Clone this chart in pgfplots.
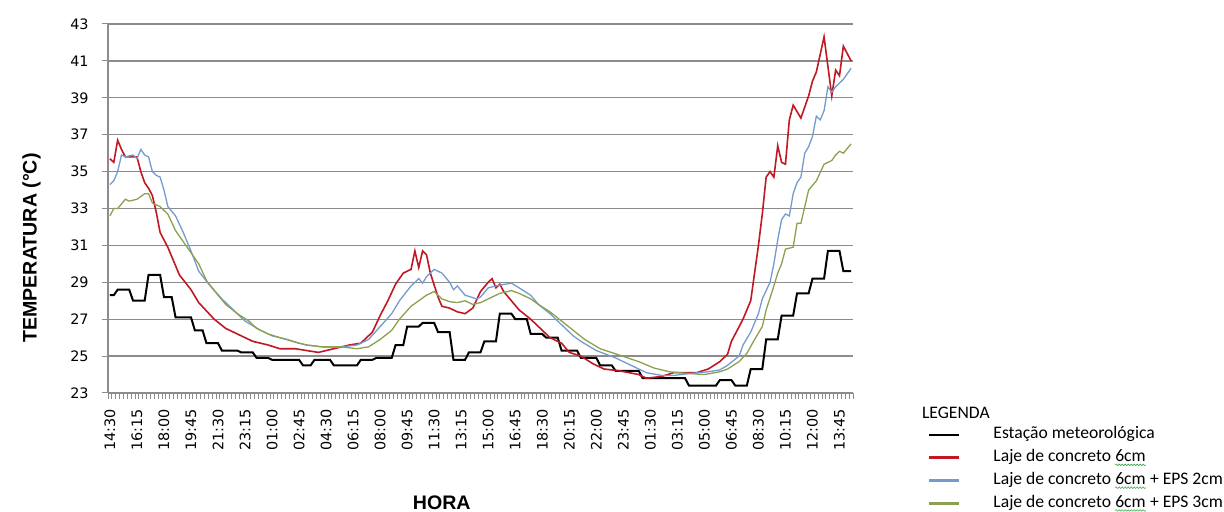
\documentclass[border=0pt]{standalone}
\usepackage{fontspec}
\setmainfont{Liberation Sans}
\newfontfamily\tickfont{DejaVu Sans}
\newfontfamily\legfont{Carlito}
\usepackage{pgfplots}
\pgfplotsset{compat=1.18}
\usepackage{pgfplotstable}
\usetikzlibrary{decorations.pathmorphing}

\definecolor{cred}{RGB}{192,25,35}
\definecolor{cblue}{RGB}{115,155,205}
\definecolor{cgreen}{RGB}{140,160,80}
\definecolor{cgrid}{RGB}{140,140,140}
\definecolor{cwave}{RGB}{60,170,80}

\newcommand\gwave[1]{\tikz[baseline=(w.base)]{\node[inner sep=0pt, text height=, text depth=](w){#1};
  \draw[cwave, line width=0.3pt, decorate, decoration={snake, amplitude=0.4pt, segment length=1.5pt}] ([yshift=-1.6pt]w.base west) -- ([yshift=-1.6pt]w.base east);}}

\pgfplotstableread{
i T
0 28.3
1 28.3
2 28.6
5 28.6
6 28.0
9 28.0
10 29.4
13 29.4
14 28.2
16 28.2
17 27.1
21 27.1
22 26.4
24 26.4
25 25.7
28 25.7
29 25.3
33 25.3
34 25.2
37 25.2
38 24.9
41 24.9
42 24.8
49 24.8
50 24.5
52 24.5
53 24.8
57 24.8
58 24.5
64 24.5
65 24.8
68 24.8
69 24.9
73 24.9
74 25.6
76 25.6
77 26.6
80 26.6
81 26.8
84 26.8
85 26.3
88 26.3
89 24.8
92 24.8
93 25.2
96 25.2
97 25.8
100 25.8
101 27.3
104 27.3
105 27.0
108 27.0
109 26.2
112 26.2
113 26.0
116 26.0
117 25.3
121 25.3
122 24.9
126 24.9
127 24.5
130 24.5
131 24.2
137 24.2
138 23.8
149 23.8
150 23.4
157 23.4
158 23.7
161 23.7
162 23.4
165 23.4
166 24.3
169 24.3
170 25.9
173 25.9
174 27.2
177 27.2
178 28.4
181 28.4
182 29.2
185 29.2
186 30.7
189 30.7
190 29.6
192 29.6
}\tblack

\pgfplotstableread{
i T
0 35.7
1 35.5
2 36.7
3 36.2
4 35.8
7 35.8
8 35.0
9 34.4
10 34.1
11 33.7
12 32.8
13 31.7
14 31.3
15 30.9
16 30.4
18 29.4
21 28.6
23 27.9
27 27.0
30 26.5
34 26.1
37 25.8
41 25.6
44 25.4
48 25.4
51 25.3
54 25.2
58 25.4
62 25.6
65 25.7
68 26.3
70 27.2
72 28.0
74 28.9
76 29.5
78 29.7
79 30.7
80 29.8
81 30.7
82 30.5
83 29.5
85 28.2
86 27.7
88 27.6
90 27.4
92 27.3
94 27.6
96 28.5
98 29.0
99 29.2
100 28.7
101 28.9
102 28.5
104 28.0
106 27.5
109 27.0
112 26.4
114 26.0
117 25.7
119 25.2
122 25.0
125 24.6
128 24.3
132 24.2
137 24.0
139 23.8
143 23.9
146 24.1
150 24.1
152 24.1
155 24.3
158 24.7
160 25.1
161 25.8
163 26.6
164 27.0
166 28.0
167 29.5
168 31.0
169 32.7
170 34.7
171 35.0
172 34.7
173 36.4
174 35.5
175 35.4
176 37.8
177 38.6
179 37.9
181 39.1
182 39.9
183 40.4
185 42.3
187 39.1
188 40.5
189 40.2
190 41.8
192 41.0
}\tred

\pgfplotstableread{
i T
0 34.3
1 34.5
2 35.0
3 35.9
4 35.8
6 35.9
7 35.7
8 36.2
9 35.9
10 35.8
11 35.0
12 34.8
13 34.7
14 34.0
15 33.1
17 32.6
19 31.7
21 30.7
23 29.6
26 28.8
29 28.1
32 27.5
35 26.9
39 26.4
42 26.1
46 25.9
49 25.7
51 25.6
55 25.5
60 25.5
64 25.6
67 25.9
70 26.6
73 27.3
75 28.0
78 28.8
80 29.2
81 28.95
82 29.3
84 29.7
86 29.5
88 29.0
89 28.6
90 28.8
92 28.3
95 28.1
96 28.2
98 28.7
101 28.85
104 28.95
106 28.7
109 28.3
111 27.8
114 27.3
117 26.7
120 26.1
122 25.8
126 25.3
131 24.9
135 24.5
139 24.1
143 23.95
146 23.95
150 24.05
155 24.15
158 24.25
160 24.5
163 25.0
164 25.6
166 26.3
168 27.3
169 28.1
171 29.0
172 30.0
173 31.3
174 32.4
175 32.7
176 32.6
177 33.8
178 34.4
179 34.7
180 36.0
181 36.35
182 36.9
183 38.0
184 37.8
185 38.3
186 39.6
187 39.3
188 39.6
190 40.0
191 40.3
192 40.6
}\tblue

\pgfplotstableread{
i T
0 32.6
1 33.0
2 33.0
4 33.5
5 33.4
7 33.5
9 33.8
10 33.8
11 33.3
13 33.1
15 32.7
17 31.8
20 30.9
23 30.0
25 29.1
28 28.3
30 27.8
33 27.3
36 26.9
38 26.5
41 26.2
44 26.0
49 25.7
51 25.6
55 25.5
60 25.5
64 25.4
67 25.5
70 25.9
73 26.4
75 27.0
78 27.7
80 28.0
82 28.3
84 28.5
86 28.1
88 27.95
90 27.9
92 28.0
94 27.8
96 27.9
98 28.1
101 28.4
104 28.55
106 28.4
109 28.1
111 27.8
114 27.4
117 26.9
120 26.4
123 25.9
127 25.4
132 25.05
137 24.7
141 24.35
145 24.15
149 24.07
154 24.0
158 24.15
160 24.3
163 24.7
165 25.15
167 25.9
169 26.6
170 27.5
172 28.8
173 29.5
174 30.0
175 30.8
177 30.9
178 32.2
179 32.2
180 33.1
181 34.0
183 34.5
185 35.4
187 35.6
188 35.9
189 36.1
190 36.0
192 36.5
}\tgreen

\begin{document}
\begin{tikzpicture}[x=1pt,y=1pt]
\path[use as bounding box] (0,0) rectangle (612,256);
\begin{axis}[
  at={(54pt,59.5pt)}, anchor=south west,
  scale only axis, width=372.5pt, height=184.5pt,
  xmin=-0.5, xmax=192.5, ymin=23, ymax=43,
  clip=false,
  axis lines*=left,
  axis line style={cgrid, line width=0.65pt},
  ymajorgrids,
  major grid style={cgrid, line width=0.65pt},
  ytick={23,25,...,43},
  xtick={0,7,...,189},
  xticklabels={14:30,16:15,18:00,19:45,21:30,23:15,01:00,02:45,04:30,06:15,08:00,09:45,11:30,13:15,15:00,16:45,18:30,20:15,22:00,23:45,01:30,03:15,05:00,06:45,08:30,10:15,12:00,13:45},
  minor xtick={-0.5,0.5,...,192.5},
  tick align=outside,
  major tick length=3pt, minor tick length=3pt,
  major x tick style={draw=none},
  tick style={cgrid, line width=0.5pt},
  /pgf/number format/assume math mode=true,
  yticklabel style={font=\tickfont\fontsize{7.2}{9}\selectfont, anchor=east, inner sep=0pt, xshift=-6.5pt},
  xticklabel style={font=\tickfont\fontsize{7.2}{9}\selectfont, yshift=-5pt, rotate=90, anchor=east, inner sep=0pt},
  legend style={at={(1.1007,-0.0908)}, anchor=north west, draw=none, fill=none,
    inner sep=0pt, outer sep=0pt, row sep=2.9pt,
    font=\legfont\fontsize{8.8}{10}\selectfont,
    nodes={inner sep=0pt, text height=6.2pt, text depth=2.3pt}},
  legend cell align=left,
  legend image code/.code={\draw[#1, line width=1.4pt] (0pt,0pt) -- (15pt,0pt); \path[draw=none] (0pt,0pt) -- (32pt,0pt);},
]
\addplot[black, line width=1pt] table[x=i,y=T] {\tblack};
\addlegendentry{Estação meteorológica}
\addplot[cred, line width=0.8pt] table[x=i,y=T] {\tred};
\addlegendentry{Laje de concreto \gwave{6cm}}
\addplot[cblue, line width=0.65pt] table[x=i,y=T] {\tblue};
\addlegendentry{Laje de concreto \gwave{6cm} + EPS 2cm}
\addplot[cgreen, line width=0.65pt] table[x=i,y=T] {\tgreen};
\addlegendentry{Laje de concreto \gwave{6cm} + EPS 3cm}

\node[rotate=90, font=\bfseries\fontsize{9.8}{11}\selectfont] at (rel axis cs:-0.1027,0.393) {TEMPERATURA (°C)};
\node[font=\bfseries\fontsize{9.8}{11}\selectfont] at (rel axis cs:0.448,-0.298) {HORA};
\node[anchor=west, inner sep=0pt, font=\legfont\fontsize{8.8}{10}\selectfont] at (rel axis cs:1.0922,-0.0542) {LEGENDA};
\end{axis}
\end{tikzpicture}
\end{document}
